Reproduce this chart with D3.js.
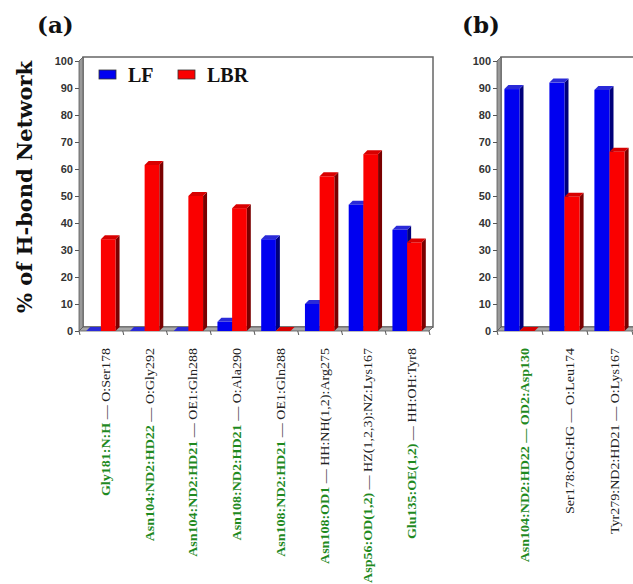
<!DOCTYPE html>
<html>
<head>
<meta charset="utf-8">
<script src="https://cdn.jsdelivr.net/npm/d3@7"></script>
<style>
  body { margin: 0; background: #fff; }
  svg { display: block; }
</style>
</head>
<body>
<svg width="633" height="584"></svg>
<script>
// data
const seriesNames = ["LF", "LBR"];
const seriesColors = {
  LF: { front: "#0000f0", side: "#00007a", top: "#2a2ad8" },
  LBR: { front: "#fa0000", side: "#7a0000", top: "#d80000" },
};
const yTicks = [0, 10, 20, 30, 40, 50, 60, 70, 80, 90, 100];

// panel (a)
const donorsA = [
  "Gly181:N:H", "Asn104:ND2:HD22", "Asn104:ND2:HD21", "Asn108:ND2:HD21",
  "Asn108:ND2:HD21", "Asn108:OD1", "Asp56:OD(1,2)", "Glu135:OE(1,2)",
];
const acceptorsA = [
  "O:Ser178", "O:Gly292", "OE1:Gln288", "O:Ala290",
  "OE1:Gln288", "HH:NH(1,2):Arg275", "HZ(1,2,3):NZ:Lys167", "HH:OH:Tyr8",
];
const lfA = [0, 0, 0, 3.4, 34, 10, 46.8, 37.5];
const lbrA = [34, 61.5, 50, 45.5, 0, 57.3, 65.5, 32.8];

// panel (b)
const donorsB = ["Asn104:ND2:HD22 — OD2:Asp130", "", ""];
const acceptorsB = ["", "Ser178:OG:HG — O:Leu174", "Tyr279:ND2:HD21 — O:Lys167"];
const lfB = [89.6, 92, 89.3];
const lbrB = [0, 49.7, 66.4];

const svg = d3.select("svg");
const depthX = 4, depthY = -4;

function drawPanel(opts) {
  const g = svg.append("g");
  const n = opts.donors.length;
  const cats = d3.range(n);

  const x = d3.scaleBand().domain(cats).range([opts.x0, opts.x1]);
  const xs = d3.scaleBand().domain(seriesNames).range([0, x.bandwidth()])
    .paddingInner(0).paddingOuter(0.49);
  const y = d3.scaleLinear().domain([0, 100]).range([331, 61]);

  const x0 = opts.x0, x1 = opts.x1;
  const wallRight = opts.wallRight;

  // back wall
  g.append("rect")
    .attr("x", x0 + depthX).attr("y", y(100) + depthY)
    .attr("width", wallRight - (x0 + depthX))
    .attr("height", y(0) - y(100))
    .attr("fill", "#fff").attr("stroke", "#666").attr("stroke-width", 1.5);

  // left side wall
  g.append("polygon")
    .attr("points", [[x0, y(0)], [x0 + depthX, y(0) + depthY], [x0 + depthX, y(100) + depthY], [x0, y(100)]].join(" "))
    .attr("fill", "#9a9a9a").attr("stroke", "#555").attr("stroke-width", 0.8);

  // floor
  g.append("polygon")
    .attr("points", [[x0, y(0)], [x1, y(0)], [x1 + depthX, y(0) + depthY], [x0 + depthX, y(0) + depthY]].join(" "))
    .attr("fill", "#a8a8a8").attr("stroke", "#555").attr("stroke-width", 0.8);

  // y axis
  g.append("g")
    .attr("transform", "translate(" + x0 + ",0)")
    .call(d3.axisLeft(y).tickValues(yTicks).tickSize(4).tickPadding(2))
    .call((ax) => ax.select(".domain").remove())
    .call((ax) => ax.selectAll("line").attr("stroke", "#555"))
    .call((ax) => ax.selectAll("text")
      .attr("fill", "#333")
      .attr("style", "font: bold 11px 'Liberation Sans', Arial, sans-serif"));

  // x separators
  const seps = cats.map((c) => x(c)).concat([x1]);
  g.selectAll(".sep").data(seps).join("line")
    .attr("x1", (d) => d).attr("y1", y(0))
    .attr("x2", (d) => d + 1).attr("y2", y(0) + 4)
    .attr("stroke", "#555");

  // bars
  const bars = [];
  cats.forEach((c) => {
    seriesNames.forEach((s) => {
      const v = s === "LF" ? opts.lf[c] : opts.lbr[c];
      bars.push({ c, s, v });
    });
  });

  const bw = xs.bandwidth();
  const barG = g.selectAll(".bar").data(bars).join("g").attr("class", "bar");
  barG.append("polygon")
    .attr("points", (d) => {
      const bx = x(d.c) + xs(d.s);
      return [[bx + bw, y(d.v)], [bx + bw + depthX, y(d.v) + depthY], [bx + bw + depthX, y(0) + depthY], [bx + bw, y(0)]].join(" ");
    })
    .attr("fill", (d) => seriesColors[d.s].side);
  barG.append("rect")
    .attr("x", (d) => x(d.c) + xs(d.s))
    .attr("y", (d) => y(d.v))
    .attr("width", bw)
    .attr("height", (d) => y(0) - y(d.v))
    .attr("fill", (d) => seriesColors[d.s].front);
  barG.append("polygon")
    .attr("points", (d) => {
      const bx = x(d.c) + xs(d.s);
      return [[bx, y(d.v)], [bx + bw, y(d.v)], [bx + bw + depthX, y(d.v) + depthY], [bx + depthX, y(d.v) + depthY]].join(" ");
    })
    .attr("fill", (d) => seriesColors[d.s].top);

  // category labels
  const lab = g.selectAll(".lab").data(cats).join("text")
    .attr("class", "lab")
    .attr("transform", (c) => "translate(" + (x(c) + x.bandwidth() / 2 + 9) + ",348) rotate(-90) scale(1.17,1)")
    .attr("text-anchor", "end")
    .attr("style", "font: 12px 'Liberation Serif', 'Times New Roman', serif");
  lab.append("tspan")
    .attr("fill", "#1f8a1f").attr("font-weight", "bold")
    .text((c) => opts.donors[c]);
  lab.append("tspan")
    .attr("fill", "#222")
    .text((c) => (opts.donors[c] && opts.acceptors[c] ? " — " : "") + opts.acceptors[c]);

  // panel letter
  svg.append("text")
    .attr("x", opts.letterX).attr("y", 33)
    .attr("style", "font: bold 23px 'DejaVu Serif', serif")
    .attr("fill", "#111")
    .text(opts.letter);
}

drawPanel({ x0: 79, x1: 429, wallRight: 433, donors: donorsA, acceptors: acceptorsA, lf: lfA, lbr: lbrA, letter: "(a)", letterX: 37 });
drawPanel({ x0: 497, x1: 632, wallRight: 640, donors: donorsB, acceptors: acceptorsB, lf: lfB, lbr: lbrB, letter: "(b)", letterX: 462 });

// y title
svg.append("text")
  .attr("transform", "translate(32,187) rotate(-90)")
  .attr("text-anchor", "middle")
  .attr("style", "font: bold 21px 'DejaVu Serif', serif")
  .attr("fill", "#111")
  .text("% of H-bond Network");

// legend
const legend = svg.append("g").attr("transform", "translate(99,70)");
const legItems = legend.selectAll("g").data(seriesNames).join("g")
  .attr("transform", (d, i) => "translate(" + i * 79 + ",0)");
legItems.append("rect")
  .attr("width", 17).attr("height", 9)
  .attr("fill", (d) => seriesColors[d].front)
  .attr("stroke", "#333").attr("stroke-width", 0.8);
legItems.append("text")
  .attr("x", 29).attr("y", 12)
  .attr("style", "font: bold 20px 'Liberation Serif', 'Times New Roman', serif")
  .attr("fill", "#111")
  .text((d) => d);
</script>
</body>
</html>
